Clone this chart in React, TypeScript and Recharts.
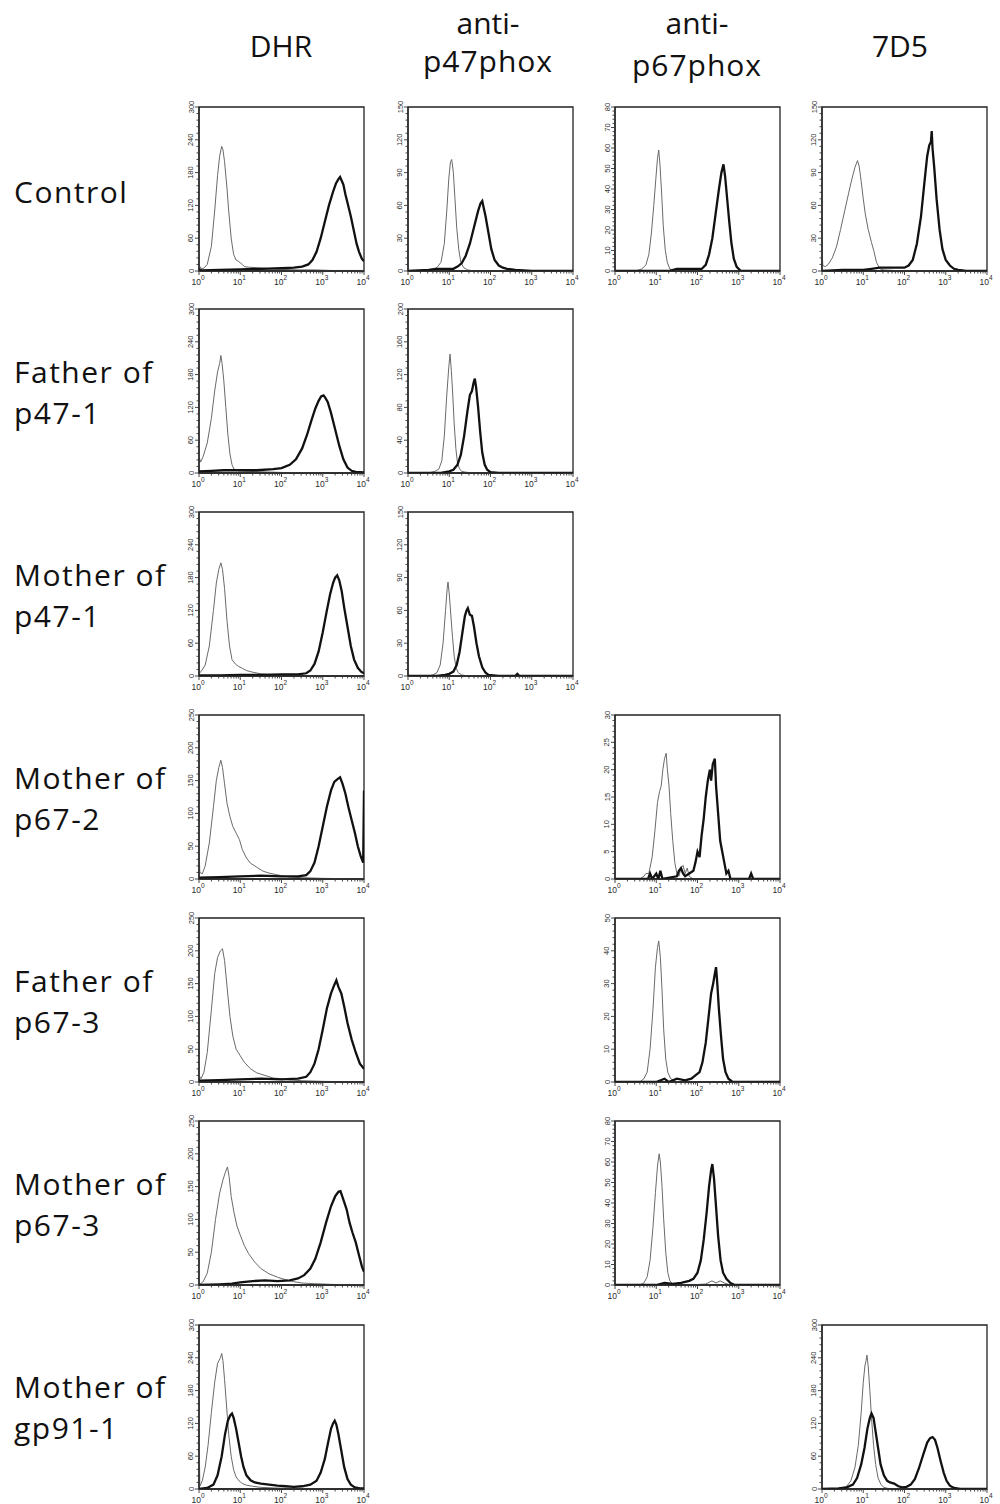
import React from 'react';
import { LineChart, Line, XAxis, YAxis, ReferenceArea } from 'recharts';

type Pt = [number, number];

// ---------- column headers & row labels ----------
const columnHeaders: string[][] = [['DHR'], ['anti-', 'p47phox'], ['anti-', 'p67phox'], ['7D5']];
const rowLabels: string[][] = [
  ['Control'],
  ['Father of', 'p47-1'],
  ['Mother of', 'p47-1'],
  ['Mother of', 'p67-2'],
  ['Father of', 'p67-3'],
  ['Mother of', 'p67-3'],
  ['Mother of', 'gp91-1'],
];
const xDecades = [0, 1, 2, 3, 4];

// ---------- data: x = log10 fluorescence, y = cell count ----------
// Row 1 Control
const dhrControlIso: Pt[] = [[0,10],[0.05,5],[0.1,4],[0.2,12],[0.3,45],[0.38,110],[0.45,175],[0.5,210],[0.55,228],[0.58,222],[0.62,200],[0.68,150],[0.72,110],[0.78,60],[0.84,30],[0.9,20],[0.95,18],[1.0,15],[1.05,12],[1.1,8],[1.2,7],[1.4,6],[1.6,5],[1.8,4],[2.0,3],[2.4,2],[2.8,2],[3.2,1],[3.6,1],[4,1]];
const dhrControlStain: Pt[] = [[0,4],[0.05,1],[0.5,2],[1.0,3],[1.5,4],[2.0,5],[2.3,6],[2.5,8],[2.65,12],[2.75,20],[2.85,35],[2.95,60],[3.05,90],[3.15,120],[3.25,145],[3.32,160],[3.38,168],[3.42,172],[3.46,165],[3.5,158],[3.55,140],[3.6,125],[3.68,100],[3.75,75],[3.82,50],[3.88,35],[3.95,22],[4.0,18]];
const p47ControlIso: Pt[] = [[0,0],[0.4,0],[0.5,1],[0.6,2],[0.7,3],[0.8,8],[0.88,25],[0.94,55],[0.99,85],[1.03,100],[1.06,102],[1.1,90],[1.14,65],[1.18,40],[1.23,20],[1.28,8],[1.35,3],[1.45,1],[1.6,0],[4,0]];
const p47ControlStain: Pt[] = [[0,0],[0.5,1],[0.7,2],[0.9,2],[1.1,2],[1.2,4],[1.3,7],[1.4,14],[1.5,25],[1.6,40],[1.7,55],[1.76,62],[1.8,64],[1.84,57],[1.88,50],[1.95,35],[2.02,20],[2.1,10],[2.2,5],[2.3,3],[2.4,2],[2.6,1],[3.0,0],[4,0]];
const p67ControlIso: Pt[] = [[0,0],[0.5,0],[0.65,1],[0.75,3],[0.82,8],[0.88,18],[0.94,32],[0.99,45],[1.03,55],[1.06,59],[1.09,52],[1.13,38],[1.17,22],[1.22,10],[1.27,4],[1.33,1],[1.45,0],[4,0]];
const p67ControlStain: Pt[] = [[0,0],[1.0,0],[1.3,0],[1.5,1],[1.7,1],[1.9,1],[2.1,1],[2.2,3],[2.28,8],[2.36,16],[2.44,28],[2.52,40],[2.58,48],[2.63,52],[2.67,46],[2.72,35],[2.77,24],[2.82,14],[2.88,6],[2.95,2],[3.05,0],[4,0]];
const d75ControlIso: Pt[] = [[0,20],[0.02,5],[0.08,4],[0.15,6],[0.25,12],[0.35,22],[0.45,38],[0.55,55],[0.65,72],[0.73,85],[0.8,95],[0.86,101],[0.9,96],[0.95,82],[1.0,66],[1.05,52],[1.12,38],[1.2,26],[1.26,18],[1.32,8],[1.4,2],[1.5,1],[2,0],[4,0]];
const d75ControlStain: Pt[] = [[0,0],[0.5,1],[1.0,1],[1.2,2],[1.4,3],[1.6,3],[1.8,3],[2.0,3],[2.1,5],[2.2,10],[2.3,25],[2.4,50],[2.48,80],[2.55,105],[2.6,115],[2.64,118],[2.66,128],[2.68,112],[2.72,95],[2.78,65],[2.85,38],[2.92,20],[3.0,10],[3.1,5],[3.2,2],[3.3,1],[3.5,0],[4,0]];
// Row 2 Father of p47-1
const dhrFatherP47Iso: Pt[] = [[0,30],[0.04,20],[0.1,30],[0.2,55],[0.3,100],[0.38,150],[0.45,185],[0.5,200],[0.53,215],[0.56,200],[0.6,170],[0.65,120],[0.7,70],[0.75,35],[0.8,15],[0.85,7],[0.95,4],[1.2,3],[1.6,2],[2.0,1],[3,0],[4,0]];
const dhrFatherP47Stain: Pt[] = [[0,3],[0.3,4],[0.6,5],[1.0,5],[1.4,5],[1.8,7],[2.0,9],[2.2,15],[2.35,25],[2.5,45],[2.62,70],[2.72,95],[2.82,118],[2.9,132],[2.96,140],[3.02,142],[3.06,138],[3.12,130],[3.2,110],[3.3,80],[3.4,50],[3.5,25],[3.6,10],[3.7,4],[3.8,2],[4,1]];
const p47FatherP47Iso: Pt[] = [[0,0],[0.5,0],[0.65,2],[0.75,5],[0.82,15],[0.88,45],[0.94,95],[0.99,130],[1.02,145],[1.05,125],[1.08,100],[1.12,60],[1.16,30],[1.2,12],[1.25,5],[1.3,2],[1.4,1],[1.6,0],[4,0]];
const p47FatherP47Stain: Pt[] = [[0,0],[0.8,0],[1.0,2],[1.1,4],[1.2,10],[1.28,22],[1.36,45],[1.44,75],[1.5,95],[1.55,100],[1.59,110],[1.62,115],[1.65,105],[1.7,80],[1.75,50],[1.8,25],[1.86,10],[1.92,4],[2.0,1],[2.2,0],[4,0]];
// Row 3 Mother of p47-1
const dhrMotherP47Iso: Pt[] = [[0,5],[0.05,8],[0.15,20],[0.25,55],[0.35,120],[0.42,170],[0.48,195],[0.53,207],[0.57,195],[0.62,160],[0.68,100],[0.74,55],[0.8,30],[0.88,22],[0.95,18],[1.05,14],[1.15,10],[1.3,7],[1.5,4],[1.8,2],[2.2,1],[3,0],[4,0]];
const dhrMotherP47Stain: Pt[] = [[0,1],[0.5,1],[1.0,2],[1.5,2],[2.0,3],[2.4,3],[2.6,5],[2.7,10],[2.8,22],[2.9,45],[3.0,80],[3.1,120],[3.18,150],[3.25,170],[3.3,180],[3.35,184],[3.4,175],[3.46,155],[3.52,125],[3.6,90],[3.68,55],[3.76,30],[3.85,15],[3.93,8],[4,5]];
const p47MotherP47Iso: Pt[] = [[0,0],[0.5,0],[0.6,1],[0.7,3],[0.78,10],[0.85,30],[0.91,60],[0.95,80],[0.97,86],[1.0,75],[1.04,55],[1.08,35],[1.12,18],[1.17,7],[1.22,3],[1.3,1],[1.45,0],[4,0]];
const p47MotherP47Stain: Pt[] = [[0,0],[0.7,0],[0.9,1],[1.0,2],[1.1,4],[1.18,10],[1.25,22],[1.32,40],[1.38,55],[1.42,60],[1.45,62],[1.5,56],[1.55,55],[1.6,45],[1.66,30],[1.72,18],[1.8,8],[1.88,3],[1.95,1],[2.2,0],[2.6,0],[2.65,2],[2.7,0],[4,0]];
// Row 4 Mother of p67-2
const dhrMotherP672Iso: Pt[] = [[0,45],[0.02,10],[0.08,8],[0.15,20],[0.25,55],[0.35,110],[0.42,150],[0.48,170],[0.53,181],[0.57,170],[0.62,145],[0.68,115],[0.75,95],[0.82,80],[0.9,70],[0.98,60],[1.05,45],[1.15,32],[1.25,24],[1.4,18],[1.55,12],[1.7,9],[1.85,7],[2.0,5],[2.2,3],[2.5,2],[3.0,1],[4,0]];
const dhrMotherP672Stain: Pt[] = [[0,2],[0.5,3],[1.0,4],[1.5,5],[2.0,4],[2.4,4],[2.6,6],[2.7,12],[2.8,25],[2.9,50],[3.0,80],[3.1,110],[3.2,135],[3.28,148],[3.35,152],[3.42,155],[3.48,145],[3.55,130],[3.62,110],[3.7,90],[3.78,70],[3.85,50],[3.92,35],[3.98,25],[4.0,135]];
const p67MotherP672Iso: Pt[] = [[0,0],[0.6,0],[0.7,0.5],[0.75,1],[0.82,1],[0.9,4],[0.97,9],[1.03,14],[1.08,16],[1.12,17],[1.16,20],[1.2,22],[1.24,23],[1.27,20],[1.31,17],[1.35,12],[1.4,7],[1.45,3],[1.5,1],[1.55,0.5],[1.6,2],[1.65,2.5],[1.7,1],[1.75,2],[1.8,0.5],[1.9,0],[4,0]];
const p67MotherP672Stain: Pt[] = [[0,0],[0.8,0],[0.85,1],[0.9,0],[1.0,1],[1.05,0],[1.1,1.5],[1.15,0],[1.5,0.5],[1.55,1.5],[1.6,2],[1.65,1],[1.7,0.5],[1.8,1],[1.9,1.5],[1.95,3],[2.0,5],[2.05,4],[2.1,8],[2.15,11],[2.2,15],[2.25,18],[2.3,20],[2.33,18],[2.37,21],[2.42,22],[2.45,17],[2.5,12],[2.55,7],[2.6,5],[2.65,3],[2.7,1],[2.75,1.5],[2.8,0],[3.25,0],[3.3,1],[3.35,0],[4,0]];
// Row 5 Father of p67-3
const dhrFatherP673Iso: Pt[] = [[0,10],[0.05,5],[0.12,15],[0.2,45],[0.3,110],[0.38,165],[0.45,190],[0.52,200],[0.57,203],[0.62,185],[0.68,145],[0.75,100],[0.82,70],[0.9,50],[1.0,40],[1.1,30],[1.25,20],[1.4,14],[1.6,10],[1.8,6],[2.0,5],[2.2,3],[2.5,2],[3,1],[4,0]];
const dhrFatherP673Stain: Pt[] = [[0,2],[0.5,3],[1.0,4],[1.5,5],[2.0,4],[2.4,5],[2.6,8],[2.7,15],[2.8,28],[2.9,50],[3.0,80],[3.1,112],[3.2,135],[3.28,148],[3.33,155],[3.38,145],[3.45,135],[3.52,115],[3.6,90],[3.7,65],[3.8,45],[3.9,28],[4,20]];
const p67FatherP673Iso: Pt[] = [[0,0],[0.6,0],[0.7,1],[0.78,3],[0.85,10],[0.92,22],[0.98,35],[1.03,41],[1.06,43],[1.1,38],[1.14,28],[1.18,16],[1.23,7],[1.28,3],[1.35,1],[1.5,0],[4,0]];
const p67FatherP673Stain: Pt[] = [[0,0],[1.0,0],[1.2,1],[1.3,0],[1.5,1],[1.7,0.5],[1.85,1],[1.95,2],[2.05,3],[2.12,6],[2.2,12],[2.27,20],[2.33,27],[2.38,30],[2.42,33],[2.45,35],[2.48,30],[2.52,22],[2.57,14],[2.62,7],[2.68,3],[2.75,1],[2.85,0],[4,0]];
// Row 6 Mother of p67-3
const dhrMotherP673Iso: Pt[] = [[0,0],[0.1,5],[0.2,18],[0.3,50],[0.4,100],[0.5,140],[0.58,160],[0.64,172],[0.69,180],[0.73,165],[0.78,135],[0.85,110],[0.92,90],[1.0,76],[1.1,60],[1.2,48],[1.35,35],[1.5,25],[1.7,17],[1.9,12],[2.1,8],[2.3,5],[2.5,3],[2.8,2],[3.2,1],[4,0]];
const dhrMotherP673Stain: Pt[] = [[0,0],[0.5,1],[0.8,2],[1.0,4],[1.3,6],[1.6,7],[1.9,6],[2.2,7],[2.4,10],[2.55,15],[2.7,25],[2.82,40],[2.95,65],[3.08,95],[3.2,120],[3.3,135],[3.38,142],[3.43,143],[3.5,130],[3.58,115],[3.65,95],[3.72,80],[3.8,65],[3.88,45],[3.95,28],[4,20]];
const p67MotherP673Iso: Pt[] = [[0,0],[0.6,0],[0.7,1],[0.78,4],[0.85,12],[0.92,28],[0.98,45],[1.03,58],[1.07,64],[1.1,60],[1.14,48],[1.18,32],[1.23,16],[1.28,6],[1.33,2],[1.4,0.5],[1.8,0],[2.2,0.5],[2.35,2],[2.45,1],[2.55,2],[2.65,1],[2.8,0],[4,0]];
const p67MotherP673Stain: Pt[] = [[0,0],[1.0,0],[1.2,1],[1.4,0.5],[1.6,1],[1.8,2],[1.9,3],[2.0,6],[2.08,12],[2.15,22],[2.22,35],[2.28,48],[2.33,56],[2.36,59],[2.4,52],[2.45,38],[2.5,24],[2.56,12],[2.62,6],[2.7,3],[2.8,1],[2.9,0],[4,0]];
// Row 7 Mother of gp91-1
const dhrMotherGp91Iso: Pt[] = [[0,120],[0.02,5],[0.08,15],[0.15,40],[0.22,80],[0.3,140],[0.38,195],[0.45,230],[0.52,240],[0.55,248],[0.58,235],[0.62,200],[0.67,150],[0.72,100],[0.78,60],[0.84,35],[0.9,22],[0.97,15],[1.05,10],[1.15,7],[1.3,5],[1.5,3],[1.8,2],[2.2,1],[3,0],[4,0]];
const dhrMotherGp91Stain: Pt[] = [[0,0],[0.2,2],[0.35,8],[0.45,25],[0.55,60],[0.63,100],[0.7,125],[0.76,135],[0.8,138],[0.84,130],[0.9,110],[0.96,85],[1.02,60],[1.08,40],[1.15,25],[1.25,16],[1.35,12],[1.5,10],[1.7,8],[1.9,6],[2.1,5],[2.3,4],[2.5,5],[2.7,8],[2.85,15],[2.95,30],[3.05,55],[3.13,85],[3.2,110],[3.25,120],[3.29,125],[3.33,118],[3.38,100],[3.45,70],[3.52,40],[3.6,18],[3.68,8],[3.78,3],[3.9,1],[4,1]];
const d75MotherGp91Iso: Pt[] = [[0,0],[0.3,0],[0.5,2],[0.6,5],[0.7,15],[0.8,40],[0.88,80],[0.95,140],[1.0,195],[1.04,225],[1.07,235],[1.09,245],[1.12,225],[1.16,180],[1.2,130],[1.25,80],[1.3,45],[1.36,20],[1.43,8],[1.5,3],[1.6,1],[2.0,0],[4,0]];
const d75MotherGp91Stain: Pt[] = [[0,0],[0.4,1],[0.6,3],[0.75,8],[0.85,20],[0.95,45],[1.03,75],[1.1,110],[1.16,130],[1.2,138],[1.25,130],[1.3,105],[1.36,75],[1.42,45],[1.5,25],[1.58,15],[1.65,12],[1.75,10],[1.85,5],[1.95,3],[2.05,4],[2.15,8],[2.25,18],[2.35,38],[2.45,62],[2.55,85],[2.62,93],[2.68,95],[2.74,90],[2.8,75],[2.88,50],[2.95,30],[3.02,15],[3.1,6],[3.2,2],[3.35,0],[4,0]];

// ---------- panel definitions ----------
interface Panel { row: number; col: number; yMax: number; yStep: number; iso: Pt[]; stain: Pt[]; }
const panels: Panel[] = [
  { row: 0, col: 0, yMax: 300, yStep: 60, iso: dhrControlIso, stain: dhrControlStain },
  { row: 0, col: 1, yMax: 150, yStep: 30, iso: p47ControlIso, stain: p47ControlStain },
  { row: 0, col: 2, yMax: 80, yStep: 10, iso: p67ControlIso, stain: p67ControlStain },
  { row: 0, col: 3, yMax: 150, yStep: 30, iso: d75ControlIso, stain: d75ControlStain },
  { row: 1, col: 0, yMax: 300, yStep: 60, iso: dhrFatherP47Iso, stain: dhrFatherP47Stain },
  { row: 1, col: 1, yMax: 200, yStep: 40, iso: p47FatherP47Iso, stain: p47FatherP47Stain },
  { row: 2, col: 0, yMax: 300, yStep: 60, iso: dhrMotherP47Iso, stain: dhrMotherP47Stain },
  { row: 2, col: 1, yMax: 150, yStep: 30, iso: p47MotherP47Iso, stain: p47MotherP47Stain },
  { row: 3, col: 0, yMax: 250, yStep: 50, iso: dhrMotherP672Iso, stain: dhrMotherP672Stain },
  { row: 3, col: 2, yMax: 30, yStep: 5, iso: p67MotherP672Iso, stain: p67MotherP672Stain },
  { row: 4, col: 0, yMax: 250, yStep: 50, iso: dhrFatherP673Iso, stain: dhrFatherP673Stain },
  { row: 4, col: 2, yMax: 50, yStep: 10, iso: p67FatherP673Iso, stain: p67FatherP673Stain },
  { row: 5, col: 0, yMax: 250, yStep: 50, iso: dhrMotherP673Iso, stain: dhrMotherP673Stain },
  { row: 5, col: 2, yMax: 80, yStep: 10, iso: p67MotherP673Iso, stain: p67MotherP673Stain },
  { row: 6, col: 0, yMax: 300, yStep: 60, iso: dhrMotherGp91Iso, stain: dhrMotherGp91Stain },
  { row: 6, col: 3, yMax: 300, yStep: 60, iso: d75MotherGp91Iso, stain: d75MotherGp91Stain },
];

// ---------- layout ----------
const colLeft = [199, 408, 615, 822];
const rowTop = [107, 309, 512, 715, 918, 1121, 1325];
const BOX_W = 165;
const BOX_H = 164;
const Y_AXIS_W = 30;
const M_TOP = 6;
const M_RIGHT = 14;
const X_AXIS_H = 20;

const headerX = [281, 488, 697, 900];
const tickFont = '"Liberation Sans", Arial, sans-serif';
const labelFont = '"Open Sans", "DejaVu Sans", sans-serif';

const xTicks: number[] = (() => {
  const t: number[] = [];
  for (let d = 0; d < 4; d++) {
    t.push(xDecades[d]);
    for (let m = 2; m <= 9; m++) t.push(xDecades[d] + Math.log10(m));
  }
  t.push(xDecades[4]);
  return t;
})();

const XTick = (props: any) => {
  const { x, y, payload } = props;
  const v = payload.value as number;
  const major = Math.abs(v - Math.round(v)) < 1e-6;
  return (
    <g>
      <line x1={x} x2={x} y1={y} y2={y + (major ? 4 : 2.5)} stroke="#333" strokeWidth={0.9} />
      {major && (
        <text x={x - 1} y={y + 13.5} textAnchor="middle" fontSize={8.5} fill="#2a2a2a" fontFamily={tickFont}>
          10<tspan dy={-4.5} fontSize={6.5}>{Math.round(v)}</tspan>
        </text>
      )}
    </g>
  );
};

const makeYTick = (step: number) => (props: any) => {
  const { x, y, payload } = props;
  const v = payload.value as number;
  const major = Math.abs(v / step - Math.round(v / step)) < 1e-6;
  const lx = x - 8;
  return (
    <g>
      <line x1={x} x2={x - (major ? 4 : 2.5)} y1={y} y2={y} stroke="#333" strokeWidth={0.9} />
      {major && (
        <text
          x={lx}
          y={y}
          transform={`rotate(-90 ${lx} ${y})`}
          textAnchor="middle"
          dominantBaseline="central"
          fontSize={7.5}
          fill="#2a2a2a"
          fontFamily={tickFont}
        >
          {v}
        </text>
      )}
    </g>
  );
};

const toRows = (pts: Pt[]) => pts.map(([x, y]) => ({ x, y }));

const Histogram = ({ p }: { p: Panel }) => {
  const yTicks: number[] = [];
  const minor = p.yStep / 5;
  for (let i = 0; i <= Math.round(p.yMax / minor); i++) yTicks.push(+(i * minor).toFixed(4));
  const width = Y_AXIS_W + BOX_W + M_RIGHT;
  const height = M_TOP + BOX_H + X_AXIS_H;
  return (
    <div style={{ position: 'absolute', left: colLeft[p.col] - Y_AXIS_W, top: rowTop[p.row] - M_TOP }}>
      <LineChart width={width} height={height} margin={{ top: M_TOP, right: M_RIGHT, bottom: 0, left: 0 }}>
        <XAxis
          type="number"
          dataKey="x"
          domain={[0, 4]}
          ticks={xTicks}
          interval={0}
          tickSize={0}
          tickMargin={0}
          tickLine={false}
          tick={<XTick />}
          axisLine={{ stroke: '#222', strokeWidth: 1.3 }}
          height={X_AXIS_H}
          allowDataOverflow
        />
        <YAxis
          type="number"
          dataKey="y"
          domain={[0, p.yMax]}
          ticks={yTicks}
          interval={0}
          tickSize={0}
          tickMargin={0}
          tickLine={false}
          tick={makeYTick(p.yStep)}
          axisLine={{ stroke: '#222', strokeWidth: 1.3 }}
          width={Y_AXIS_W}
          allowDataOverflow
        />
        <ReferenceArea x1={0} x2={4} y1={0} y2={p.yMax} fill="none" stroke="#222" strokeWidth={1.3} ifOverflow="visible" />
        <Line
          data={toRows(p.iso)}
          dataKey="y"
          type="linear"
          stroke="#6a6a6a"
          strokeWidth={1}
          dot={false}
          activeDot={false}
          isAnimationActive={false}
        />
        <Line
          data={toRows(p.stain)}
          dataKey="y"
          type="linear"
          stroke="#111"
          strokeWidth={2.3}
          dot={false}
          activeDot={false}
          isAnimationActive={false}
        />
      </LineChart>
    </div>
  );
};

export default function App() {
  return (
    <div style={{ position: 'absolute', left: 0, top: 0, width: 1000, height: 1504, background: '#fff', overflow: 'hidden' }}>
      <svg width={1000} height={1504} style={{ position: 'absolute', left: 0, top: 0 }}>
        {columnHeaders.map((lines, i) =>
          lines.length === 1 ? (
            <text key={i} x={headerX[i]} y={57} textAnchor="middle" fontSize={30} fontFamily={labelFont} fill="#111">
              {lines[0]}
            </text>
          ) : (
            <text key={i} x={headerX[i]} y={34} textAnchor="middle" fontSize={30} fontFamily={labelFont} fill="#111">
              <tspan x={headerX[i]} dy={0}>{lines[0]}</tspan>
              <tspan x={headerX[i]} dy={i === 1 ? 38 : 42} letterSpacing={1}>{lines[1]}</tspan>
            </text>
          )
        )}
        {rowLabels.map((lines, r) =>
          lines.map((t, k) => (
            <text
              key={`${r}-${k}`}
              x={14}
              y={(r === 0 ? 203 : 383 + (r - 1) * 203) + k * 41}
              fontSize={30}
              letterSpacing={1.5}
              fontFamily={labelFont}
              fill="#111"
            >
              {t}
            </text>
          ))
        )}
      </svg>
      {panels.map((p, i) => (
        <Histogram key={i} p={p} />
      ))}
    </div>
  );
}
